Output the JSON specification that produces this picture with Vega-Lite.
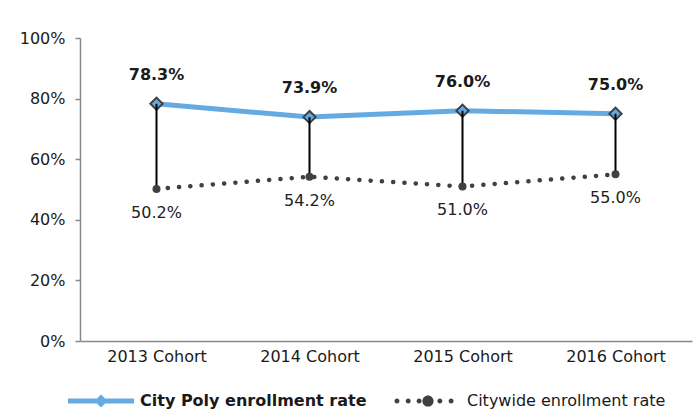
{
  "$schema": "https://vega.github.io/schema/vega-lite/v6.json",
  "width": 612,
  "height": 303,
  "autosize": {"type": "none"},
  "padding": {"left": 80, "top": 38, "right": 1, "bottom": 72},
  "background": "white",
  "config": {
    "view": {"stroke": null},
    "font": "DejaVu Sans",
    "axis": {
      "domainColor": "#888888",
      "domainWidth": 1.5,
      "tickColor": "#888888",
      "tickWidth": 1.5,
      "grid": false,
      "labelFont": "DejaVu Sans",
      "labelFontSize": 16,
      "labelColor": "#1a1a1a",
      "title": null
    },
    "axisX": {"ticks": false, "labelPadding": 7, "labelAngle": 0},
    "axisY": {"tickSize": 5, "labelPadding": 10}
  },
  "data": {
    "values": [
      {"cohort": "2013 Cohort", "series": "City Poly enrollment rate", "value": 0.783},
      {"cohort": "2014 Cohort", "series": "City Poly enrollment rate", "value": 0.739},
      {"cohort": "2015 Cohort", "series": "City Poly enrollment rate", "value": 0.760},
      {"cohort": "2016 Cohort", "series": "City Poly enrollment rate", "value": 0.750},
      {"cohort": "2013 Cohort", "series": "Citywide enrollment rate", "value": 0.502},
      {"cohort": "2014 Cohort", "series": "Citywide enrollment rate", "value": 0.542},
      {"cohort": "2015 Cohort", "series": "Citywide enrollment rate", "value": 0.510},
      {"cohort": "2016 Cohort", "series": "Citywide enrollment rate", "value": 0.550}
    ]
  },
  "encoding": {
    "x": {
      "field": "cohort",
      "type": "ordinal",
      "sort": null,
      "scale": {"type": "point", "padding": 0.5},
      "axis": {"title": null}
    },
    "y": {
      "field": "value",
      "type": "quantitative",
      "scale": {"domain": [0, 1]},
      "axis": {"title": null, "values": [0, 0.2, 0.4, 0.6, 0.8, 1], "format": ".0%"}
    }
  },
  "layer": [
    {
      "transform": [{"filter": "datum.series === 'City Poly enrollment rate'"}],
      "mark": {"type": "line", "color": "#66aae2", "strokeWidth": 5},
      "encoding": {}
    },
    {
      "transform": [{"filter": "datum.series === 'Citywide enrollment rate'"}],
      "mark": {"type": "line", "color": "#404040", "strokeWidth": 4.5, "strokeCap": "round", "strokeDash": [0.1, 11.2]},
      "encoding": {}
    },
    {
      "transform": [{"filter": "datum.series === 'City Poly enrollment rate'"}],
      "mark": {"type": "point", "shape": "diamond", "filled": true, "fill": "#66aae2", "stroke": "#404040", "strokeWidth": 2, "size": 150, "opacity": 1},
      "encoding": {}
    },
    {
      "transform": [{"pivot": "series", "value": "value", "groupby": ["cohort"]}],
      "mark": {"type": "rule", "color": "#000000", "strokeWidth": 2},
      "encoding": {
        "y": {"field": "City Poly enrollment rate", "type": "quantitative", "axis": {"title": null, "values": [0, 0.2, 0.4, 0.6, 0.8, 1], "format": ".0%"}},
        "y2": {"field": "Citywide enrollment rate"}
      }
    },
    {
      "transform": [{"filter": "datum.series === 'Citywide enrollment rate'"}],
      "mark": {"type": "circle", "color": "#404040", "size": 64, "opacity": 1},
      "encoding": {}
    },
    {
      "transform": [{"filter": "datum.series === 'City Poly enrollment rate'"}],
      "mark": {"type": "text", "dy": -29, "fontSize": 16, "fontWeight": "bold", "color": "#1a1a1a", "font": "DejaVu Sans"},
      "encoding": {"text": {"field": "value", "type": "quantitative", "format": ".1%"}}
    },
    {
      "transform": [{"filter": "datum.series === 'Citywide enrollment rate'"}],
      "mark": {"type": "text", "dy": 24, "fontSize": 16, "color": "#222222", "font": "DejaVu Sans"},
      "encoding": {"text": {"field": "value", "type": "quantitative", "format": ".1%"}}
    },
    {
      "mark": {"type": "point", "filled": true, "opacity": 0},
      "encoding": {
        "color": {
          "field": "series",
          "type": "nominal",
          "scale": {
            "domain": ["City Poly enrollment rate", "Citywide enrollment rate"],
            "range": ["#66aae2", "#404040"]
          }
        },
        "shape": {
          "field": "series",
          "type": "nominal",
          "scale": {
            "domain": ["City Poly enrollment rate", "Citywide enrollment rate"],
            "range": [
              "M-1,-0.075L1,-0.075L1,0.075L-1,0.075Z M0,-0.2L0.2,0L0,0.2L-0.2,0Z",
              "M-1.015,0a0.075,0.075 0 1,0 0.15,0a0.075,0.075 0 1,0 -0.15,0M-0.675,0a0.075,0.075 0 1,0 0.15,0a0.075,0.075 0 1,0 -0.15,0M-0.345,0a0.075,0.075 0 1,0 0.15,0a0.075,0.075 0 1,0 -0.15,0M-0.17,0a0.17,0.17 0 1,0 0.34,0a0.17,0.17 0 1,0 -0.34,0M0.285,0a0.075,0.075 0 1,0 0.15,0a0.075,0.075 0 1,0 -0.15,0M0.625,0a0.075,0.075 0 1,0 0.15,0a0.075,0.075 0 1,0 -0.15,0"
            ]
          },
          "legend": {
            "title": null,
            "orient": "none",
            "legendX": -12,
            "legendY": 330,
            "direction": "horizontal",
            "symbolSize": 4356,
            "symbolOpacity": 1,
            "symbolStrokeWidth": 0,
            "labelOffset": 6,
            "labelLimit": 400,
            "columnPadding": 27,
            "padding": 0,
            "labelFont": "DejaVu Sans",
            "labelFontSize": 16,
            "labelColor": "#1a1a1a",
            "labelFontWeight": {"expr": "datum.label === 'City Poly enrollment rate' ? 'bold' : 'normal'"}
          }
        }
      }
    }
  ]
}
